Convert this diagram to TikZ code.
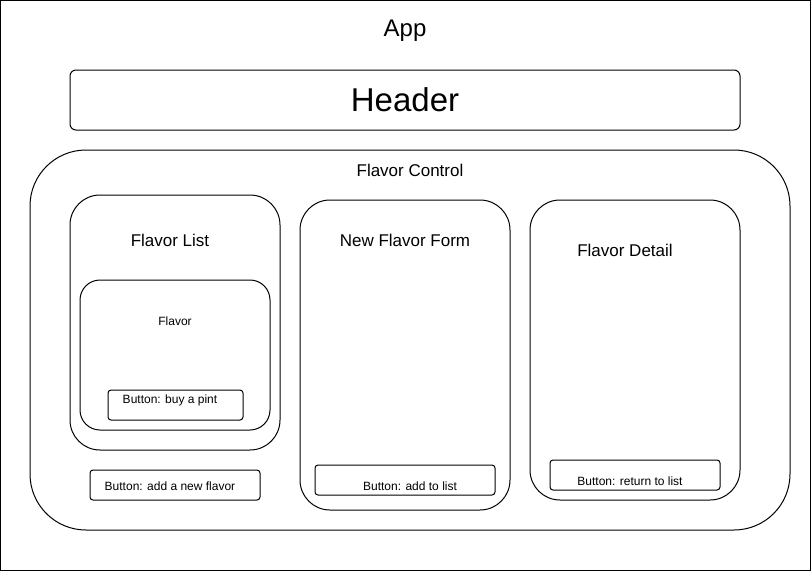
\documentclass[tikz,border=0pt]{standalone}
\usepackage{fontspec}
\setmainfont{Liberation Sans}
\tikzset{
    frame-box/.style = {draw=black, line width=1pt, rectangle, inner sep=0pt, outer sep=0pt, anchor=north west},
    btn-box/.style = {frame-box, rounded corners=3pt},
    big-label/.style = {inner sep=0pt, font=\fontsize{17}{20}\selectfont},
    small-label/.style = {inner sep=0pt, font=\fontsize{12}{14}\selectfont},
}
\begin{document}
\begin{tikzpicture}[x=1pt, y=-1pt]
% page frame
\node [frame-box, minimum width=810pt, minimum height=570pt] (app) at (0.5,0.5) {};
\node [inner sep=0pt, font=\fontsize{24}{28}\selectfont] (app-title) at (405,31) {App};

% header
\node [frame-box, rounded corners=6pt, minimum width=670pt, minimum height=60pt] (header) at (70,70) {};
\node [inner sep=0pt, font=\fontsize{33}{39}\selectfont] (header-title) at (header.center) {Header};

% flavor control
\node [frame-box, rounded corners=56pt, minimum width=760pt, minimum height=380pt] (control) at (30,150) {};
\node [big-label] (control-title) at (410,170) {Flavor Control};

% flavor list
\node [frame-box, rounded corners=30pt, minimum width=210pt, minimum height=255pt] (list) at (70,195) {};
\node [big-label] (list-title) at (170,240) {Flavor List};
\node [frame-box, rounded corners=20pt, minimum width=190pt, minimum height=150pt] (flavor) at (80,280) {};
\node [small-label] (flavor-title) at (175,321) {Flavor};
\node [btn-box, minimum width=135pt, minimum height=30pt] (buy) at (108,390) {};
\node [small-label] (buy-title) at (170,400) {Button: buy a pint};
\node [btn-box, minimum width=170pt, minimum height=30pt] (add-new) at (90,470) {};
\node [small-label] (add-new-title) at (170,486) {Button: add a new flavor};

% new flavor form
\node [frame-box, rounded corners=30pt, minimum width=210pt, minimum height=310pt] (form) at (300,200) {};
\node [big-label] (form-title) at (405,240) {New Flavor Form};
\node [btn-box, minimum width=180pt, minimum height=30pt] (add-list) at (315,465) {};
\node [small-label] (add-list-title) at (410,486) {Button: add to list};

% flavor detail
\node [frame-box, rounded corners=30pt, minimum width=210pt, minimum height=300pt] (detail) at (530,200) {};
\node [big-label] (detail-title) at (625,250) {Flavor Detail};
\node [btn-box, minimum width=170pt, minimum height=30pt] (back) at (550,460) {};
\node [small-label] (back-title) at (630,481) {Button: return to list};

\useasboundingbox (0,0) rectangle (811,571);
\end{tikzpicture}
\end{document}
